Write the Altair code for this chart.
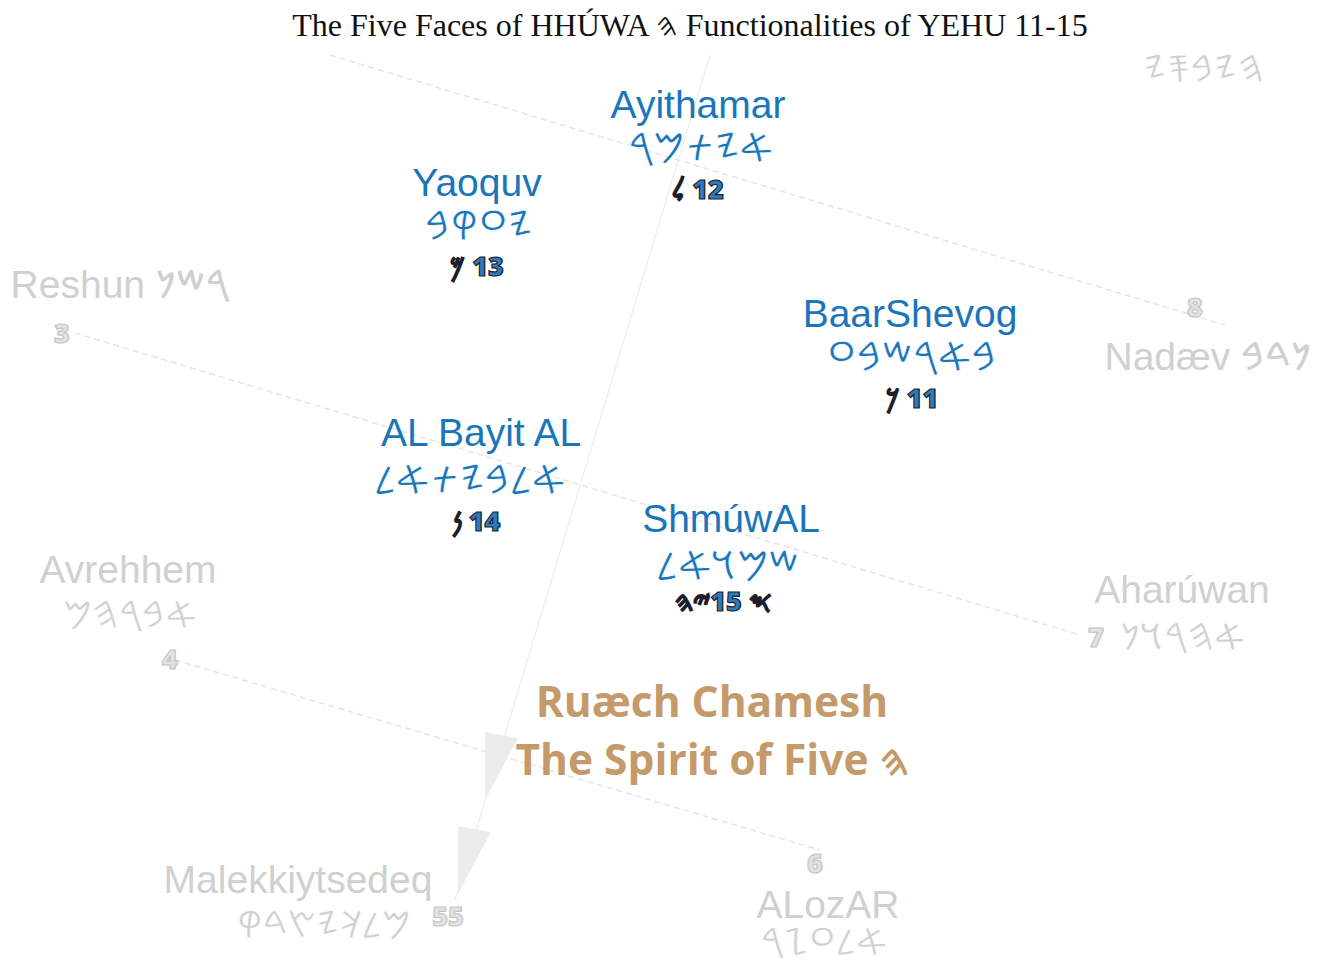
import altair as alt
import pandas as pd

# ---------------- data ----------------
title_text = ["The Five Faces of HHÚWA 𐤄 Functionalities of YEHU 11-15"]
title_x = [690]
title_y = [36]

face_names = ["Ayithamar", "Yaoquv", "BaarShevog", "AL Bayit AL", "ShmúwAL"]
face_paleo = ["𐤀𐤉𐤕𐤌𐤓", "𐤉𐤏𐤒𐤁", "𐤁𐤀𐤓𐤔𐤁𐤏", "𐤀𐤋𐤁𐤉𐤕𐤀𐤋", "𐤔𐤌𐤅𐤀𐤋"]
face_nums = ["𐤋\u200e 12", "𐤌\u200e 13", "𐤊\u200e 11", "𐤍\u200e 14", "𐤉𐤄\u200e15\u200e 𐤎"]
face_x = [698, 477, 910, 481, 731]
face_name_y = [118, 196, 327, 446, 532]
face_paleo_x = [701, 479, 912, 470, 728]
face_paleo_y = [162, 240, 371, 494, 580]
face_num_x = [698, 477, 912, 476, 723]
face_num_y = [199, 276, 408, 531, 611]

other_names = ["Reshun 𐤓𐤔𐤍", "Nadæv 𐤍𐤃𐤁", "Avrehhem", "Aharúwan", "Malekkiytsedeq", "ALozAR"]
other_x = [120, 1208, 128, 1182, 298, 828]
other_y = [298, 370, 583, 603, 893, 918]

other_paleo = ["𐤀𐤁𐤓𐤄𐤌", "𐤀𐤄𐤓𐤅𐤍", "𐤌𐤋𐤊𐤉𐤑𐤃𐤒", "𐤀𐤋𐤏𐤆𐤓", "𐤄𐤉𐤁𐤎𐤉"]
other_paleo_x = [130, 1183, 324, 824, 1204]
other_paleo_y = [628, 650, 938, 955, 82]

gray_nums = ["3", "8", "4", "7", "55", "6"]
gray_num_x = [62, 1195, 170, 1096, 448, 815]
gray_num_y = [343, 317, 669, 647, 926, 873]

center_lines = ["Ruæch Chamesh", "The Spirit of Five 𐤄"]
center_x = [712, 712]
center_y = [717, 775]

dash_x1 = [330, 75, 175]
dash_y1 = [55, 333, 660]
dash_x2 = [1225, 1080, 820]
dash_y2 = [325, 635, 850]

axis_x1 = [710]
axis_y1 = [55]
axis_x2 = [455]
axis_y2 = [900]

arrow_x = [496, 469]
arrow_y = [757, 851]

# ---------------- helpers ----------------
PW, PH = 1304, 958
XS = alt.Scale(domain=[8, 8 + PW], nice=False, zero=False)
YS = alt.Scale(domain=[8, 8 + PH], nice=False, zero=False, reverse=True)


def X(f="x"):
    return alt.X(f"{f}:Q", scale=XS, axis=None)


def Y(f="y"):
    return alt.Y(f"{f}:Q", scale=YS, axis=None)


SANS = "Liberation Sans, Arial, Noto Sans Phoenician, sans-serif"
PALEO = "Noto Sans Phoenician, Noto Sans, DejaVu Sans, sans-serif"
BLUE = "#1b75bb"
GRAY = "#d0d0d0"


def text_layer(labels, xs, ys, **kw):
    df = pd.DataFrame({"label": labels, "x": xs, "y": ys})
    return alt.Chart(df).mark_text(baseline="alphabetic", **kw).encode(
        x=X(), y=Y(), text="label:N"
    )


# ---------------- layers ----------------
dash_df = pd.DataFrame({"x": dash_x1, "y": dash_y1, "x2": dash_x2, "y2": dash_y2})
dashes = alt.Chart(dash_df).mark_rule(
    color="#e4e4e4", strokeWidth=1.5, strokeDash=[6, 4]
).encode(x=X(), y=Y(), x2="x2:Q", y2="y2:Q")

axis_df = pd.DataFrame({"x": axis_x1, "y": axis_y1, "x2": axis_x2, "y2": axis_y2})
axis_line = alt.Chart(axis_df).mark_rule(color="#ececec", strokeWidth=1.2).encode(
    x=X(), y=Y(), x2="x2:Q", y2="y2:Q"
)

arrow_df = pd.DataFrame({"x": arrow_x, "y": arrow_y})
arrows = alt.Chart(arrow_df).mark_point(
    shape="M-0.22,-0.5 L0.44,-0.38 L-0.22,0.86 Z",
    filled=True,
    color="#ececec",
    opacity=1,
    size=10000,
).encode(x=X(), y=Y())

title = text_layer(title_text, title_x, title_y, font="Liberation Serif",
                   fontSize=32, color="#111111", align="center")

f_names = text_layer(face_names, face_x, face_name_y, font=SANS, fontSize=39,
                     color=BLUE, align="center")
f_paleo = text_layer(face_paleo, face_paleo_x, face_paleo_y, font=PALEO, fontSize=41,
                     color=BLUE, stroke="white", strokeWidth=0.8, align="center")
f_nums = text_layer(face_nums, face_num_x, face_num_y, font="Open Sans", fontSize=27,
                    fontWeight=800, color="#2b7bbf", stroke="#1d1d2b",
                    strokeWidth=1.2, align="center")

o_names = text_layer(other_names, other_x, other_y, font=SANS, fontSize=39,
                     color=GRAY, align="center")
o_paleo = text_layer(other_paleo, other_paleo_x, other_paleo_y, font=PALEO,
                     fontSize=38, color=GRAY, stroke="white", strokeWidth=0.8,
                     align="center")
g_nums = text_layer(gray_nums, gray_num_x, gray_num_y, font="Open Sans",
                    fontSize=27, fontWeight=800, color="#e2e2e2", stroke="#c4c4c4",
                    strokeWidth=1.2, align="center")

center = text_layer(center_lines, center_x, center_y, font="Open Sans", fontSize=42.5,
                    fontWeight="bold", color="#c49a6a", align="center")

chart = alt.layer(
    dashes, axis_line, arrows, title, f_names, f_paleo, f_nums,
    o_names, o_paleo, g_nums, center
).properties(
    width=PW, height=PH, padding=0, background="white",
    autosize=alt.AutoSizeParams(type="none"),
).configure_view(stroke=None)

chart.save("out.html", embed_options={"renderer": "svg", "actions": False})
